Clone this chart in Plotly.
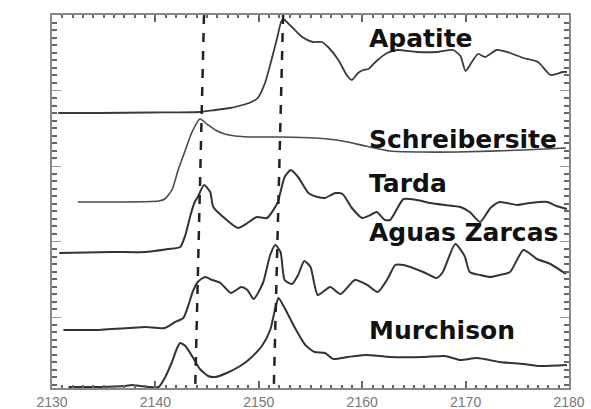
import plotly.graph_objects as go

# Energy axis (eV) and stacked, offset spectra (arbitrary intensity units)
apatite_x = [2130.6, 2134.6, 2139.5, 2144.3, 2145.8, 2147.2, 2147.7, 2149.3, 2149.9, 2150.6,
             2151.3, 2151.8, 2152.2, 2152.5, 2152.7, 2153.3, 2154.2, 2155.2, 2156.1, 2156.7,
             2157.7, 2158.5, 2159.0, 2159.6, 2160.1, 2160.6, 2161.0, 2161.5, 2162.4, 2163.4,
             2165.3, 2167.2, 2168.8, 2169.5, 2170.0, 2170.6, 2171.2, 2171.9, 2173.0, 2174.3,
             2175.6, 2177.0, 2178.2, 2178.8, 2179.4, 2179.8]
apatite_y = [275, 275, 275.5, 276, 278, 280, 281, 286, 290, 305,
             331, 351, 367, 368, 366, 360, 351, 346, 346, 341,
             328, 313, 308, 315, 318, 319, 323, 328, 335, 338,
             336, 336, 338, 332, 317, 326, 334, 331, 338, 335,
             330, 326, 313, 314, 316, 316]

schreib_x = [2132.5, 2136.6, 2140.3, 2140.9, 2141.6, 2142.2, 2142.9, 2143.5, 2144.3, 2145.1,
             2145.8, 2146.7, 2147.7, 2149.0, 2152.2, 2155.4, 2158.1, 2160.3, 2162.7, 2165.6,
             2169.2, 2175.6, 2179.7]
schreib_y = [186, 186, 187, 189, 198, 218, 238, 255, 269, 263,
             258, 254, 252, 251, 251, 250, 247, 242, 237, 236,
             236, 238, 240]

tarda_x = [2130.7, 2135.8, 2139.0, 2141.2, 2142.4, 2142.9, 2143.4, 2143.8, 2144.1, 2144.7,
           2145.3, 2145.6, 2146.9, 2148.0, 2148.9, 2149.8, 2150.8, 2151.8, 2152.1, 2152.5,
           2153.1, 2153.8, 2154.8, 2155.7, 2156.4, 2157.4, 2158.1, 2159.0, 2160.0, 2160.8,
           2161.4, 2162.2, 2162.7, 2163.2, 2164.0, 2165.3, 2166.6, 2168.0, 2169.5, 2170.4,
           2171.4, 2172.4, 2173.3, 2175.0, 2176.2, 2177.9, 2178.8, 2179.8]
tarda_y = [135, 136, 136, 139, 141, 153, 173, 186, 191, 203,
           196, 181, 168, 160, 165, 171, 170, 185, 196, 211,
           218, 211, 195, 191, 190, 195, 194, 180, 170, 173,
           176, 168, 168, 176, 189, 188, 185, 183, 181, 176,
           166, 180, 186, 183, 185, 186, 182, 179]

aguas_x = [2131.1, 2134.2, 2137.4, 2139.0, 2140.9, 2141.9, 2142.7, 2143.2, 2143.6, 2144.1,
           2144.8, 2145.5, 2146.3, 2147.3, 2148.3, 2148.9, 2149.5, 2150.4, 2151.1, 2151.6,
           2152.1, 2152.5, 2153.2, 2153.8, 2154.4, 2155.0, 2155.7, 2156.9, 2157.9, 2159.3,
           2160.5, 2161.5, 2162.5, 2163.2, 2164.0, 2165.9, 2167.2, 2167.8, 2169.0, 2169.9,
           2170.4, 2171.4, 2172.4, 2173.3, 2174.3, 2175.6, 2176.9, 2178.2, 2179.7]
aguas_y = [58, 58, 60, 61, 60, 66, 70, 83, 96, 106,
           111, 108, 105, 95, 101, 98, 89, 105, 133, 143,
           136, 108, 104, 113, 127, 121, 93, 101, 94, 108,
           103, 96, 110, 123, 123, 116, 110, 116, 144, 132,
           116, 113, 111, 113, 116, 138, 129, 124, 114]

murch_x = [2131.6, 2134.6, 2137.1, 2137.7, 2138.5, 2140.3, 2140.9, 2141.6, 2142.1, 2142.4,
           2142.9, 2143.6, 2144.3, 2145.1, 2145.8, 2146.9, 2148.2, 2149.0, 2150.3, 2151.1,
           2151.6, 2151.9, 2152.5, 2153.5, 2154.5, 2155.4, 2156.4, 2157.2, 2158.6, 2160.3,
           2162.7, 2165.9, 2168.0, 2169.5, 2171.1, 2173.3, 2175.6, 2177.2, 2179.8]
murch_y = [1, 1, 2, 3, 2, 1, 10, 26, 40, 45,
           42, 31, 19, 12, 11, 15, 22, 28, 42, 58,
           80, 90, 80, 60, 43, 36, 35, 29, 31, 33,
           31, 31, 32, 28, 30, 26, 24, 22, 23]

series_names = ["Apatite", "Schreibersite", "Tarda", "Aguas Zarcas", "Murchison"]
label_x = 2160.5
label_y = [350, 249, 205, 156, 58]

# Two guide lines (eV at top, eV at bottom)
guide_top_x = [2144.7, 2152.35]
guide_bottom_x = [2143.85, 2151.45]

x_ticks = [2130, 2140, 2150, 2160, 2170, 2180]
x_tick_text = ["2130", "2140", "2150", "2160", "2170", "2180"]

x_range = [2130, 2180]
y_range = [0, 373]

fig = go.Figure()
traces = [(apatite_x, apatite_y, "#3a3a3a", 1.8),
          (schreib_x, schreib_y, "#4a4a4a", 1.6),
          (tarda_x, tarda_y, "#333333", 2.0),
          (aguas_x, aguas_y, "#333333", 2.0),
          (murch_x, murch_y, "#333333", 2.0)]
for (xs, ys, col, w), name in zip(traces, series_names):
    fig.add_trace(go.Scatter(x=xs, y=ys, mode="lines", name=name,
                             line=dict(color=col, width=w, shape="spline", smoothing=0.6),
                             showlegend=False, hoverinfo="skip"))

for name, yv in zip(series_names, label_y):
    fig.add_annotation(x=label_x, y=yv, xref="x", yref="y", text="<b>" + name + "</b>",
                       showarrow=False, xanchor="left", yanchor="middle",
                       font=dict(family="DejaVu Sans", size=25, color="#111111"))

for xt, xb in zip(guide_top_x, guide_bottom_x):
    fig.add_shape(type="line", xref="x", yref="y", x0=xt, y0=y_range[1], x1=xb, y1=y_range[0],
                  line=dict(color="#222222", width=2.5, dash="dash"))

fig.update_xaxes(range=x_range, tickmode="array", tickvals=x_ticks, ticktext=x_tick_text,
                 showgrid=False, zeroline=False, showline=True, linecolor="#888888", linewidth=2,
                 mirror="ticks", ticks="inside", ticklen=7, tickwidth=1.5, tickcolor="#666666",
                 minor=dict(dtick=1, tick0=2130, ticks="inside", ticklen=3, tickwidth=1.5,
                            tickcolor="#666666", showgrid=False),
                 tickfont=dict(family="Liberation Sans", size=14, color="#777777"),
                 ticklabelstandoff=0, automargin=False)
fig.update_yaxes(range=y_range, tickmode="linear", tick0=71, dtick=75.5, showticklabels=False,
                 showgrid=False, zeroline=False, showline=True, linecolor="#888888", linewidth=2,
                 mirror="ticks", ticks="inside", ticklen=9, tickwidth=1, tickcolor="#999999",
                 minor=dict(dtick=7.55, tick0=71, ticks="inside", ticklen=5, tickwidth=1.5,
                            tickcolor="#666666", showgrid=False),
                 automargin=False)

fig.update_layout(width=591, height=409, margin=dict(l=52, r=22, t=15, b=21),
                  paper_bgcolor="white", plot_bgcolor="white")

fig.write_html("out.html", config={"displayModeBar": False},
               post_script="document.body.style.margin='0px';document.body.style.overflow='hidden';")
